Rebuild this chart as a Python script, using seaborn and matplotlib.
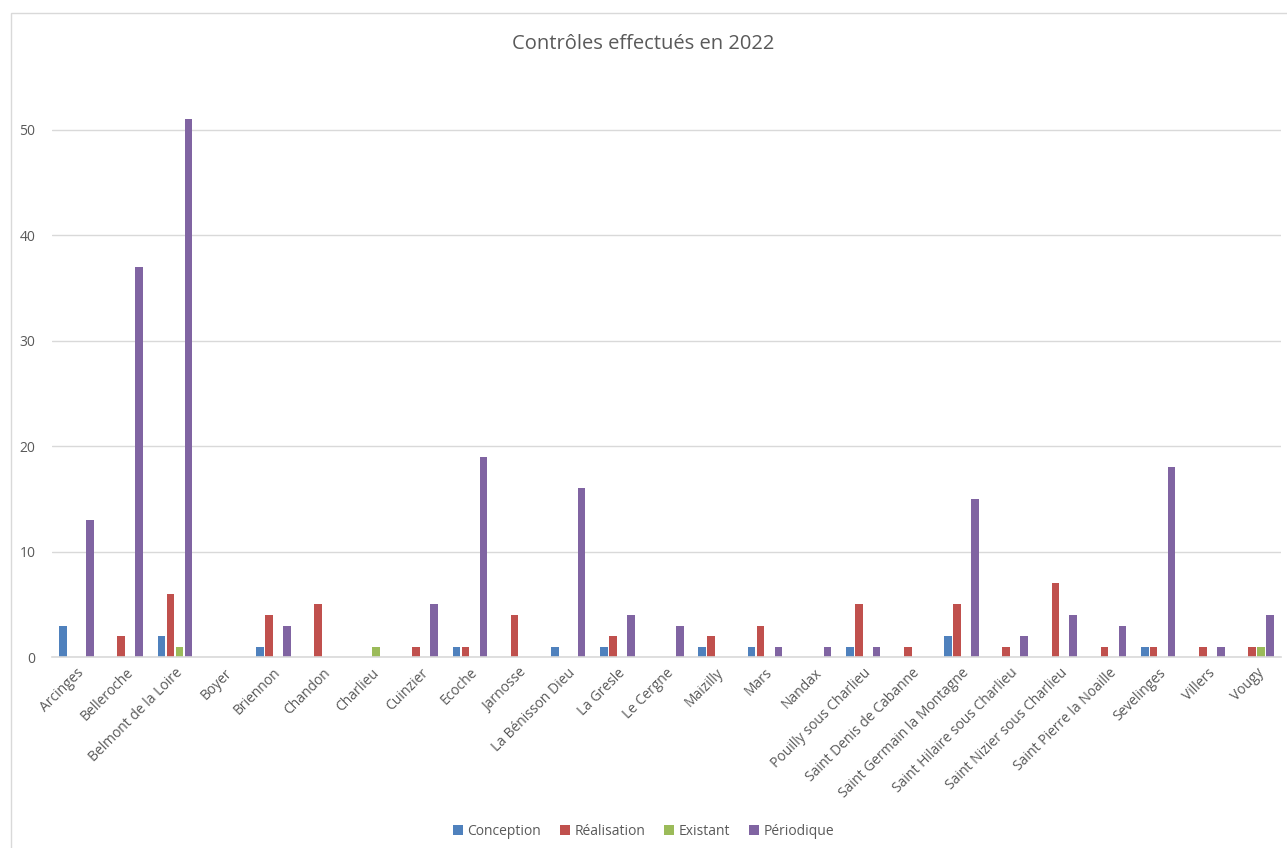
import pandas as pd
import matplotlib.pyplot as plt
import seaborn as sns
from matplotlib.patches import Rectangle

# Data
communes = [
    "Arcinges", "Belleroche", "Belmont de la Loire", "Boyer", "Briennon",
    "Chandon", "Charlieu", "Cuinzier", "Ecoche", "Jarnosse",
    "La Bénisson Dieu", "La Gresle", "Le Cergne", "Maizilly", "Mars",
    "Nandax", "Pouilly sous Charlieu", "Saint Denis de Cabanne",
    "Saint Germain la Montagne", "Saint Hilaire sous Charlieu",
    "Saint Nizier sous Charlieu", "Saint Pierre la Noaille", "Sevelinges",
    "Villers", "Vougy",
]
conception = [3, 0, 2, 0, 1, 0, 0, 0, 1, 0, 1, 1, 0, 1, 1, 0, 1, 0, 2, 0, 0, 0, 1, 0, 0]
realisation = [0, 2, 6, 0, 4, 5, 0, 1, 1, 4, 0, 2, 0, 2, 3, 0, 5, 1, 5, 1, 7, 1, 1, 1, 1]
existant = [0, 0, 1, 0, 0, 0, 1, 0, 0, 0, 0, 0, 0, 0, 0, 0, 0, 0, 0, 0, 0, 0, 0, 0, 1]
periodique = [13, 37, 51, 0, 3, 0, 0, 5, 19, 0, 16, 4, 3, 0, 1, 1, 1, 0, 15, 2, 4, 3, 18, 1, 4]

series = ["Conception", "Réalisation", "Existant", "Périodique"]
colors = ["#4F81BD", "#C0504D", "#9BBB59", "#8064A2"]

df = pd.DataFrame({
    "Commune": communes,
    "Conception": conception,
    "Réalisation": realisation,
    "Existant": existant,
    "Périodique": periodique,
})
long_df = df.melt(id_vars="Commune", var_name="Type", value_name="Nombre")

# Style
sns.set_theme(style="white")
plt.rcParams["font.family"] = ["Open Sans", "DejaVu Sans"]

fig = plt.figure(figsize=(12.87, 8.48), dpi=100)
ax = fig.add_axes([0.0404, 0.225, 0.955, 0.684])

sns.barplot(
    data=long_df, x="Commune", y="Nombre", hue="Type",
    hue_order=series, palette=colors, width=0.73, gap=0.15,
    ax=ax, saturation=1, edgecolor="none",
)

ax.set_ylim(0, 55)
ax.set_yticks([0, 10, 20, 30, 40, 50])
ax.set_xlim(-0.5, len(communes) - 0.5)
ax.yaxis.grid(True, color="#D9D9D9", linewidth=1)
ax.set_axisbelow(True)
for side in ["top", "right", "left"]:
    ax.spines[side].set_visible(False)
ax.spines["bottom"].set_color("#D9D9D9")
ax.spines["bottom"].set_linewidth(1.2)
ax.set_xlabel("")
ax.set_ylabel("")
ax.tick_params(axis="both", length=0, labelsize=10, colors="#595959", pad=6)
ax.tick_params(axis="y", pad=12)
plt.setp(ax.get_xticklabels(), rotation=45, ha="right", rotation_mode="anchor")

fig.text(0.5, 0.948, "Contrôles effectués en 2022", ha="center", va="center",
         fontsize=14.5, color="#595959")

# Legend at the bottom
handles, labels = ax.get_legend_handles_labels()
ax.legend_.remove()
fig.legend(handles, labels, loc="center", bbox_to_anchor=(0.5, 0.02), ncol=4,
           frameon=False, fontsize=10, labelcolor="#595959",
           handlelength=0.7, handleheight=0.7, handletextpad=0.3, columnspacing=1.4)

# Chart frame
fig.patches.append(Rectangle((11 / 1287, -0.01), 1.0, 1 - 13 / 848 + 0.01,
                             transform=fig.transFigure, fill=False,
                             edgecolor="#D9D9D9", linewidth=1))

fig.savefig("out.png", dpi=100)
